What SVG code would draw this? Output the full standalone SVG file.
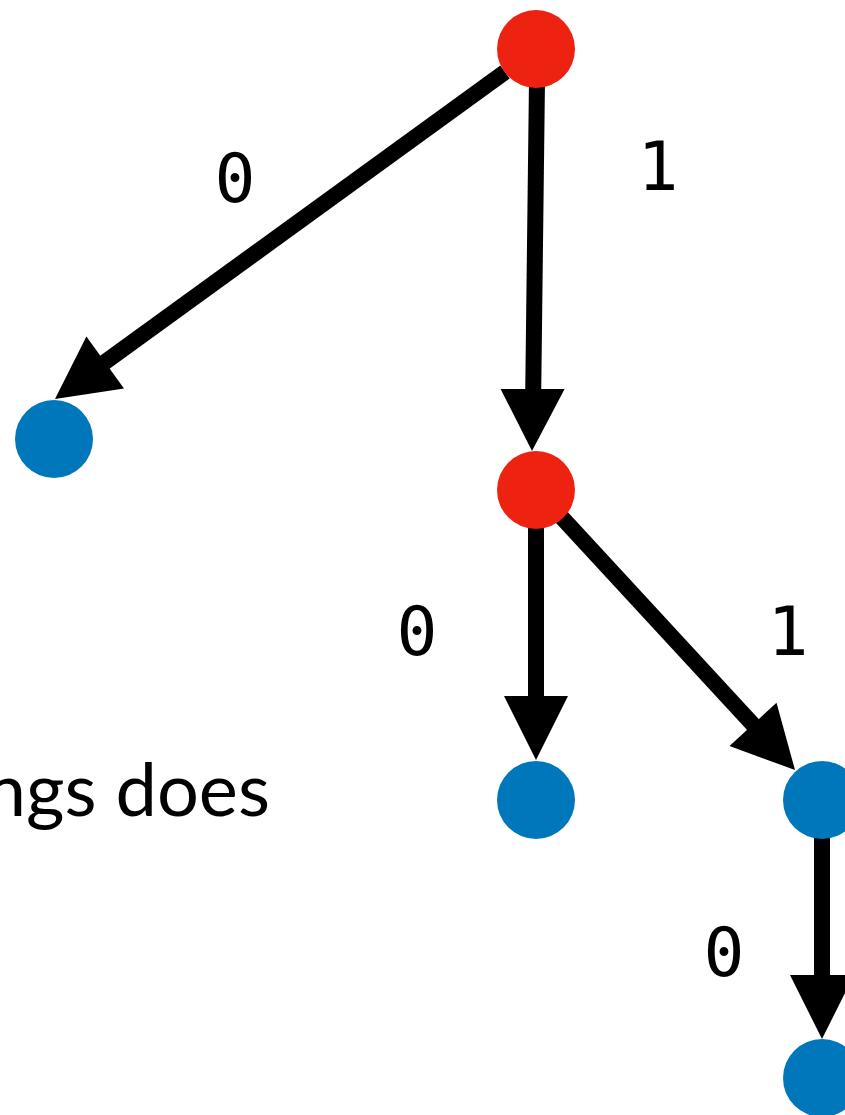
<svg xmlns="http://www.w3.org/2000/svg" width="845" height="1115" viewBox="0 0 845 1115">
  <style>
    .edge { stroke: #000; stroke-width: 16; fill: none; }
    .head { fill: #000; }
    .inner { fill: #EE2211; }
    .leaf { fill: #0077BB; }
    .bit { font-family: "DejaVu Sans Mono", "Liberation Mono", monospace; font-size: 68px; fill: #000; text-anchor: middle; }
    .caption { font-family: Lato, "Open Sans", sans-serif; font-size: 74px; fill: #000; }
  </style>
  <rect width="845" height="1115" fill="#fff"/>

  <text class="caption" x="270" y="816" text-anchor="end">ngs does</text>

  <g id="connectors">
    <!-- root -> left leaf (0) -->
    <line class="edge" x1="505" y1="72" x2="90" y2="373"/>
    <polygon class="head" points="55,399 124,388.4 86.4,336.6"/>
    <!-- root -> inner node (1) -->
    <line class="edge" x1="537" y1="80" x2="533" y2="410"/>
    <polygon class="head" points="532,451 500.6,389 564.6,389"/>
    <!-- inner node -> middle leaf (0) -->
    <line class="edge" x1="536" y1="520" x2="536" y2="720"/>
    <polygon class="head" points="536,760 504,696 568,696"/>
    <!-- inner node -> right leaf (1) -->
    <line class="edge" x1="555" y1="510" x2="770" y2="743"/>
    <polygon class="head" points="795,770 729.5,746.1 776.5,702.7"/>
    <!-- right leaf -> bottom leaf (0) -->
    <line class="edge" x1="822" y1="830" x2="822" y2="1000"/>
    <polygon class="head" points="822,1039 790,975 854,975"/>
  </g>

  <g id="labels">
    <text class="bit" x="235" y="202">0</text>
    <text class="bit" x="658" y="190">1</text>
    <text class="bit" x="417" y="655">0</text>
    <text class="bit" x="788" y="655">1</text>
    <text class="bit" x="724" y="976">0</text>
  </g>

  <g id="root"><circle class="inner" cx="536" cy="49" r="39"/></g>
  <g id="leaf-left"><circle class="leaf" cx="54" cy="439" r="39"/></g>
  <g id="inner"><circle class="inner" cx="536" cy="490" r="39"/></g>
  <g id="leaf-middle"><circle class="leaf" cx="536" cy="800" r="39"/></g>
  <g id="leaf-right"><circle class="leaf" cx="822" cy="800" r="39"/></g>
  <g id="leaf-bottom"><circle class="leaf" cx="822" cy="1078" r="39"/></g>
</svg>
